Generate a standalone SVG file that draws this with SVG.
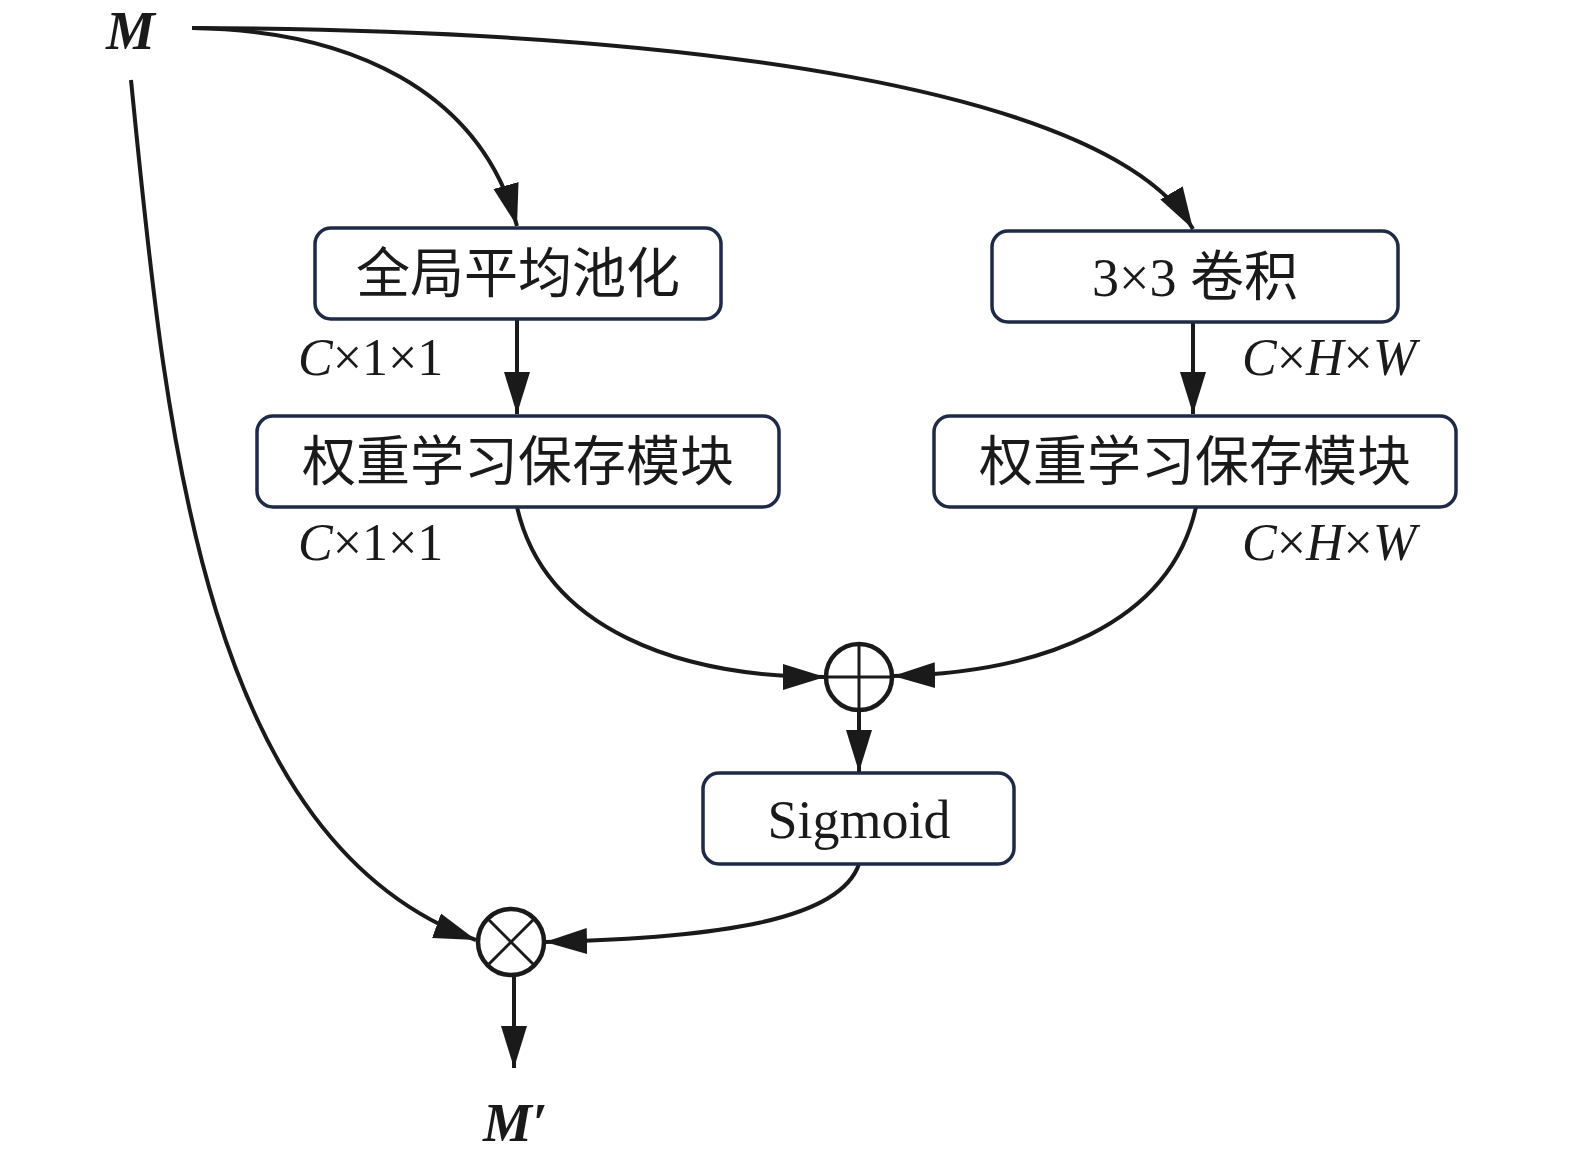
<svg xmlns="http://www.w3.org/2000/svg" width="1575" height="1164" viewBox="0 0 1575 1164">
<style>
.box{fill:#fff;stroke:#1f2a47;stroke-width:3.5}
.t{font-family:"Liberation Serif","Noto Sans CJK SC",serif;font-size:54px;fill:#1a1a1a;text-anchor:middle}
.lab{font-family:"Liberation Serif",serif;font-size:52px;fill:#1a1a1a}
.var{font-family:"Liberation Serif",serif;font-size:55px;font-weight:bold;font-style:italic;fill:#1a1a1a}
.c{fill:none;stroke:#1a1a1a;stroke-width:4}
.op{fill:#fff;stroke:#1a1a1a;stroke-width:4.5}
.opl{stroke:#1a1a1a;stroke-width:3}
</style>
<defs>
<marker id="ah" markerUnits="userSpaceOnUse" markerWidth="44" markerHeight="30" viewBox="0 0 44 30" refX="42" refY="15" orient="auto">
<path d="M0,2 L42,15 L0,28 Z" fill="#1a1a1a"/>
</marker>
</defs>
<g id="connectors">
<path class="c" d="M192,28 C350,30 480,90 517,226" marker-end="url(#ah)"/>
<path class="c" d="M192,28 C700,30 1110,90 1193,229" marker-end="url(#ah)"/>
<path class="c" d="M131,80 C165,420 200,840 476,940" marker-end="url(#ah)"/>
<path class="c" d="M517,319 L517,414" marker-end="url(#ah)"/>
<path class="c" d="M1193,322 L1193,414" marker-end="url(#ah)"/>
<path class="c" d="M517,507 C545,630 680,677 825,677" marker-end="url(#ah)"/>
<path class="c" d="M1196,507 C1170,625 1040,673 893,676" marker-end="url(#ah)"/>
<path class="c" d="M859,710 L859,772" marker-end="url(#ah)"/>
<path class="c" d="M859,864 C840,920 720,938 545,942" marker-end="url(#ah)"/>
<path class="c" d="M514,975 L514,1068" marker-end="url(#ah)"/>
</g>
<g id="M"><text class="var" x="106" y="49">M</text></g>
<g id="Mprime"><text class="var" x="483" y="1141">M′</text></g>
<g id="gap">
<rect class="box" x="315" y="228" width="406" height="91" rx="16"/>
<text class="t" x="518" y="293">全局平均池化</text>
</g>
<g id="conv">
<rect class="box" x="992" y="231" width="406" height="91" rx="16"/>
<text class="t" x="1195" y="296">3×3 卷积</text>
</g>
<g id="wl1">
<rect class="box" x="257" y="416" width="522" height="91" rx="16"/>
<text class="t" x="518" y="481">权重学习保存模块</text>
</g>
<g id="wl2">
<rect class="box" x="934" y="416" width="522" height="91" rx="16"/>
<text class="t" x="1195" y="481">权重学习保存模块</text>
</g>
<g id="sigmoid">
<rect class="box" x="703" y="773" width="311" height="91" rx="16"/>
<text class="t" x="859" y="838">Sigmoid</text>
</g>
<g id="plus">
<circle class="op" cx="859" cy="677" r="33"/>
<line class="opl" x1="826" y1="677" x2="892" y2="677"/>
<line class="opl" x1="859" y1="644" x2="859" y2="710"/>
</g>
<g id="times">
<circle class="op" cx="511" cy="942" r="33"/>
<line class="opl" x1="488" y1="919" x2="534" y2="965"/>
<line class="opl" x1="534" y1="919" x2="488" y2="965"/>
</g>
<g id="labels">
<text class="lab" x="298" y="375"><tspan font-style="italic">C</tspan>×1×1</text>
<text class="lab" x="298" y="560"><tspan font-style="italic">C</tspan>×1×1</text>
<text class="lab" x="1242" y="375" font-size="54" font-style="italic">C<tspan font-style="normal">×</tspan>H<tspan font-style="normal">×</tspan>W</text>
<text class="lab" x="1242" y="560" font-size="54" font-style="italic">C<tspan font-style="normal">×</tspan>H<tspan font-style="normal">×</tspan>W</text>
</g>
</svg>
